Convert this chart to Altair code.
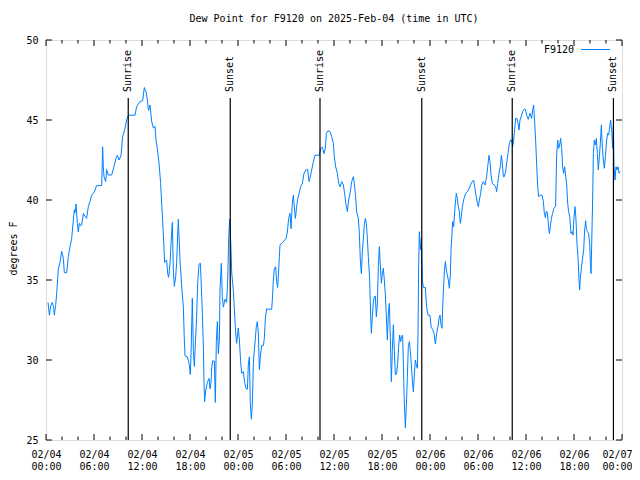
import json
import altair as alt
import pandas as pd

# hours since 2025-02-04 00:00 UTC
hours = [
    0.25, 0.42, 0.6, 0.79, 0.95, 1.04, 1.2, 1.33, 1.46, 1.54,
    1.75, 1.96, 2.05, 2.17, 2.29, 2.58, 2.79, 3.0, 3.21, 3.42,
    3.54, 3.62, 3.75, 3.92, 4.04, 4.17, 4.3, 4.46, 4.67, 4.85,
    5.08, 5.29, 5.5, 5.71, 6.04, 6.33, 6.96, 7.08, 7.17, 7.25,
    7.46, 7.58, 7.79, 8.21, 8.5, 8.75, 8.92, 9.13, 9.38, 9.58,
    9.88, 10.08, 10.29, 11.13, 11.33, 11.75, 12.08, 12.29, 12.5, 12.67,
    12.75, 12.83, 13.0, 13.21, 13.42, 13.63, 13.75, 13.92, 14.13, 14.33,
    14.46, 14.58, 14.75, 14.83, 15.08, 15.21, 15.33, 15.5, 15.63, 15.79,
    15.92, 16.04, 16.21, 16.33, 16.54, 16.75, 16.96, 17.17, 17.29, 17.38,
    17.67, 17.88, 18.04, 18.13, 18.29, 18.42, 18.54, 18.63, 18.83, 18.96,
    19.13, 19.29, 19.38, 19.54, 19.67, 19.75, 19.83, 19.96, 20.17, 20.38,
    20.5, 20.63, 20.71, 20.83, 21.04, 21.17, 21.29, 21.42, 21.54, 21.67,
    21.75, 21.92, 22.04, 22.17, 22.38, 22.58, 22.71, 22.83, 22.96, 23.04,
    23.13, 23.21, 23.42, 23.54, 23.71, 23.83, 24.04, 24.17, 24.33, 24.46,
    24.67, 24.83, 25.0, 25.17, 25.29, 25.42, 25.54, 25.67, 25.79, 25.92,
    26.04, 26.17, 26.29, 26.42, 26.54, 26.67, 26.79, 26.96, 27.17, 27.29,
    27.42, 27.58, 27.79, 28.21, 28.29, 28.42, 28.54, 28.71, 28.83, 28.96,
    29.04, 29.17, 29.25, 29.67, 30.0, 30.17, 30.33, 30.5, 30.63, 30.79,
    30.92, 31.04, 31.17, 31.33, 31.46, 31.63, 31.83, 32.04, 32.25, 32.5,
    32.71, 32.88, 33.0, 33.21, 33.42, 33.63, 34.17, 34.33, 34.54, 34.75,
    34.92, 35.04, 35.25, 35.5, 35.71, 35.92, 36.04, 36.21, 36.42, 36.58,
    36.75, 36.96, 37.17, 37.33, 37.5, 37.67, 37.83, 38.0, 38.21, 38.42,
    38.54, 38.67, 38.83, 39.04, 39.17, 39.29, 39.42, 39.54, 39.67, 39.79,
    39.92, 40.04, 40.17, 40.29, 40.46, 40.58, 40.67, 40.79, 40.92, 41.04,
    41.17, 41.29, 41.42, 41.54, 41.67, 41.79, 41.92, 42.04, 42.17, 42.29,
    42.42, 42.54, 42.67, 42.79, 42.92, 43.04, 43.17, 43.29, 43.42, 43.54,
    43.67, 43.83, 43.96, 44.08, 44.21, 44.33, 44.46, 44.58, 44.67, 44.79,
    44.92, 45.04, 45.17, 45.29, 45.42, 45.54, 45.67, 45.79, 45.92, 46.04,
    46.17, 46.29, 46.42, 46.5, 46.58, 46.67, 46.79, 46.92, 47.04, 47.17,
    47.42, 47.58, 47.75, 48.0, 48.13, 48.33, 48.5, 48.67, 48.83, 49.0,
    49.13, 49.25, 49.38, 49.5, 49.58, 49.67, 49.79, 49.92, 50.04, 50.17,
    50.29, 50.42, 50.54, 50.63, 50.75, 50.83, 50.96, 51.13, 51.29, 51.42,
    51.54, 51.67, 51.79, 51.92, 52.04, 52.25, 52.46, 52.67, 52.88, 53.08,
    53.29, 53.46, 53.58, 53.75, 53.92, 54.04, 54.17, 54.33, 54.46, 54.67,
    54.88, 55.08, 55.21, 55.38, 55.5, 55.63, 55.79, 56.0, 56.21, 56.33,
    56.46, 56.63, 56.79, 56.92, 57.04, 57.17, 57.29, 57.46, 57.58, 57.75,
    57.92, 58.08, 58.21, 58.33, 58.46, 58.58, 58.71, 58.88, 59.0, 59.13,
    59.25, 59.42, 59.58, 59.75, 59.92, 60.08, 60.29, 60.5, 60.71, 60.83,
    60.96, 61.08, 61.21, 61.33, 61.46, 61.58, 61.75, 62.0, 62.17, 62.29,
    62.42, 62.54, 62.67, 62.79, 62.92, 63.04, 63.17, 63.33, 63.5, 63.7,
    63.83, 63.96, 64.08, 64.21, 64.33, 64.46, 64.58, 64.71, 64.83, 64.96,
    65.08, 65.21, 65.33, 65.46, 65.58, 65.63, 65.75, 65.88, 66.0, 66.13,
    66.25, 66.38, 66.5, 66.63, 66.71, 66.79, 66.92, 67.04, 67.21, 67.33,
    67.46, 67.54, 67.67, 67.83, 67.96, 68.04, 68.13, 68.21, 68.33, 68.42,
    68.54, 68.67, 68.79, 68.92, 69.04, 69.17, 69.29, 69.42, 69.54, 69.67,
    69.79, 69.92, 70.08, 70.21, 70.33, 70.46, 70.58, 70.71, 70.83, 70.92,
    71.0, 71.13, 71.25, 71.38, 71.5, 71.63, 71.75,
]

dewpoint = [
    33.6, 32.8, 33.4, 33.6, 33.3, 32.8, 33.4, 34.1, 35.1, 35.7,
    36.1, 36.8, 36.6, 36.35, 35.46, 35.46, 36.46, 37.08, 37.6, 38.75,
    39.4, 39.2, 39.75, 38.54, 38.0, 38.54, 38.4, 38.44, 39.17, 39.0,
    38.85, 39.58, 39.9, 40.3, 40.5, 40.9, 40.9, 43.33, 42.0, 41.46,
    41.15, 41.9, 41.56, 41.56, 42.1, 42.6, 42.8, 42.5, 42.8, 43.96,
    44.48, 45.0, 45.3, 45.3, 45.83, 46.15, 46.2, 47.03, 46.77, 46.25,
    45.8, 45.6, 45.94, 44.9, 44.5, 44.6, 43.75, 43.2, 42.3, 41.04,
    39.8, 38.75, 36.98, 36.1, 36.25, 35.4, 35.17, 36.0, 37.3, 38.6,
    35.6, 34.6, 35.2, 36.1, 38.8, 36.25, 34.6, 33.3, 31.25, 30.25,
    30.2, 29.8, 29.1, 30.4, 33.85, 30.6, 29.6, 30.6, 32.7, 34.8,
    35.98, 36.05, 35.1, 33.0, 30.8, 28.54, 27.4, 28.1, 28.6, 28.85,
    28.2, 28.6, 29.5, 29.94, 29.94, 27.35, 31.15, 32.4, 30.4, 31.25,
    34.4, 36.05, 33.96, 33.3, 33.8, 33.6, 34.9, 37.5, 38.8, 37.9,
    36.9, 35.5, 34.3, 33.2, 31.7, 31.04, 32.0, 31.25, 29.9, 29.17,
    29.27, 28.6, 28.23, 28.17, 29.7, 30.2, 27.3, 26.3, 27.2, 29.8,
    30.6, 31.35, 32.1, 32.4, 31.67, 29.4, 30.2, 30.9, 30.9, 31.35,
    32.6, 33.2, 33.17, 33.17, 33.75, 35.0, 35.7, 35.83, 34.9, 34.54,
    35.2, 36.46, 37.2, 37.4, 37.6, 38.0, 38.85, 39.17, 38.2, 39.8,
    40.3, 39.58, 38.85, 39.58, 40.04, 40.4, 40.83, 41.04, 41.67, 41.9,
    41.9, 41.15, 41.35, 41.88, 42.4, 42.8, 42.8, 43.23, 43.3, 42.9,
    43.23, 44.17, 44.33, 44.27, 43.96, 43.54, 42.7, 42.08, 41.67, 41.04,
    40.83, 41.15, 40.94, 40.4, 39.7, 39.27, 40.0, 40.4, 41.15, 41.46,
    41.04, 40.4, 39.27, 38.85, 37.9, 36.25, 35.4, 36.77, 37.6, 38.44,
    38.85, 38.54, 37.6, 36.46, 35.0, 32.8, 31.67, 32.7, 33.64, 33.96,
    34.0, 32.7, 33.54, 35.83, 37.08, 35.94, 34.8, 35.4, 35.73, 35.0,
    34.06, 32.8, 31.25, 32.9, 33.54, 31.46, 28.65, 30.6, 32.2, 30.6,
    29.06, 29.17, 29.8, 30.83, 31.56, 31.15, 31.46, 31.56, 29.8, 27.3,
    25.77, 27.08, 28.96, 30.83, 31.15, 30.6, 29.7, 28.75, 28.02, 29.06,
    30.0, 29.7, 29.48, 31.56, 35.83, 38.02, 36.9, 37.6, 35.0, 34.54,
    34.54, 33.3, 32.8, 32.8, 32.1, 31.9, 31.67, 31.0, 31.67, 32.1,
    32.6, 32.8, 32.2, 31.98, 33.23, 34.27, 35.52, 36.15, 35.63, 35.3,
    35.0, 34.48, 35.3, 36.9, 37.9, 38.65, 38.33, 39.58, 40.42, 40.1,
    39.58, 39.27, 38.54, 38.96, 39.58, 40.1, 40.42, 40.52, 40.73, 40.94,
    41.15, 41.25, 40.83, 40.3, 39.8, 39.58, 40.0, 40.42, 40.94, 41.15,
    40.94, 41.46, 42.08, 42.8, 42.4, 41.56, 41.04, 40.94, 40.83, 40.52,
    41.04, 41.67, 42.08, 42.8, 42.3, 41.46, 41.46, 41.77, 42.3, 42.9,
    43.54, 43.75, 43.75, 43.33, 43.75, 44.38, 45.1, 45.1, 44.8, 44.38,
    45.0, 45.25, 45.52, 45.67, 45.67, 45.3, 45.04, 45.42, 45.1, 45.63,
    45.94, 44.9, 43.65, 42.3, 40.83, 40.2, 40.3, 40.3, 39.9, 39.2,
    38.9, 39.3, 39.2, 38.5, 37.9, 38.33, 38.85, 39.17, 39.48, 39.6,
    42.8, 43.75, 43.23, 43.44, 43.85, 43.23, 42.08, 41.67, 42.08, 41.46,
    41.04, 39.8, 39.27, 38.96, 38.2, 37.9, 38.02, 37.8, 38.96, 39.58,
    38.75, 37.2, 36.46, 35.0, 34.38, 35.1, 35.73, 36.25, 36.88, 38.13,
    38.7, 38.23, 38.02, 37.9, 37.3, 36.15, 35.4, 37.2, 40.0, 42.9,
    43.75, 43.44, 43.85, 42.9, 41.88, 42.7, 43.54, 44.69, 43.33, 42.5,
    41.98, 42.7, 43.75, 44.17, 44.06, 44.58, 45.0, 44.38, 43.23, 44.58,
    42.08, 41.25, 42.08, 41.88, 42.08, 41.67, 41.77,
]

assert len(hours) == len(dewpoint), (len(hours), len(dewpoint))

sun_hours = [10.28, 23.03, 34.25, 46.97, 58.28, 70.93]
sun_events = ["Sunrise", "Sunset", "Sunrise", "Sunset", "Sunrise", "Sunset"]

tick_hours = [0, 6, 12, 18, 24, 30, 36, 42, 48, 54, 60, 66, 72]
tick_dates = ["02/04", "02/04", "02/04", "02/04", "02/05", "02/05", "02/05",
              "02/05", "02/06", "02/06", "02/06", "02/06", "02/07"]
tick_times = ["00:00", "06:00", "12:00", "18:00", "00:00", "06:00", "12:00",
              "18:00", "00:00", "06:00", "12:00", "18:00", "00:00"]
minor_hours = [2, 4, 8, 10, 14, 16, 20, 22, 26, 28, 32, 34, 38, 40, 44, 46,
               50, 52, 56, 58, 62, 64, 68, 70]
y_ticks = [25, 30, 35, 40, 45, 50]

series_name = "F9120"
title_text = "Dew Point for F9120 on 2025-Feb-04 (time in UTC)"

FONT = "DejaVu Sans Mono"
BLUE = "#0080ff"

df = pd.DataFrame({"hour": hours, "dewpoint": dewpoint})
sun = pd.DataFrame({"hour": sun_hours, "event": sun_events})
major = pd.DataFrame({"hour": tick_hours})
minor = pd.DataFrame({"hour": minor_hours})
yt = pd.DataFrame({"dewpoint": y_ticks})
leg = pd.DataFrame({"label": [series_name]})

xscale = alt.Scale(domain=[0, 72], nice=False, zero=False)
yscale = alt.Scale(domain=[25, 50], nice=False, zero=False)

label_pairs = [[d, t] for d, t in zip(tick_dates, tick_times)]
label_expr = json.dumps(label_pairs) + "[round(datum.value / 6)]"

x_axis = alt.Axis(
    values=tick_hours, labelExpr=label_expr, title=None, grid=False,
    ticks=False, tickSize=0, domain=False, labelFont=FONT, labelFontSize=10,
    labelPadding=9, labelLineHeight=12, labelFlush=False,
    labelOverlap=False, labelColor="black", labelBaseline="top",
    labelAlign={"condition": {"test": "datum.value >= 72", "value": "right"},
                "value": "center"},
    labelOffset={"condition": {"test": "datum.value >= 72", "value": 10},
                 "value": 0},
)
y_axis = alt.Axis(values=y_ticks, title="degrees F", grid=False, ticks=False, tickSize=0,
                  domain=False, labelFont=FONT, labelFontSize=10, labelPadding=8,
                  labelColor="black", labelFlush=False, labelOverlap=False,
                  titleFont=FONT, titleFontSize=10, titleFontWeight="normal",
                  titleColor="black", titleAngle=270, titleX=-33, titleY=208,
                  titleAlign="center", titleBaseline="middle")

line = alt.Chart(df).mark_line(color=BLUE, strokeWidth=1).encode(
    x=alt.X("hour:Q", scale=xscale, axis=x_axis),
    y=alt.Y("dewpoint:Q", scale=yscale, axis=y_axis),
)

sun_rules = alt.Chart(sun).mark_rule(color="black", strokeWidth=1.2).encode(
    x=alt.X("hour:Q", scale=xscale),
    y=alt.value(58),
    y2=alt.value(400),
)
sun_text = alt.Chart(sun).mark_text(angle=270, align="left", baseline="middle",
                                    font=FONT, fontSize=10, color="black").encode(
    x=alt.X("hour:Q", scale=xscale),
    y=alt.value(52),
    text="event:N",
)

major_top = alt.Chart(major).mark_rule(color="black").encode(
    x=alt.X("hour:Q", scale=xscale), y=alt.value(0), y2=alt.value(6))
major_bot = alt.Chart(major).mark_rule(color="black").encode(
    x=alt.X("hour:Q", scale=xscale), y=alt.value(394), y2=alt.value(400))
minor_top = alt.Chart(minor).mark_rule(color="black").encode(
    x=alt.X("hour:Q", scale=xscale), y=alt.value(0), y2=alt.value(3.5))
minor_bot = alt.Chart(minor).mark_rule(color="black").encode(
    x=alt.X("hour:Q", scale=xscale), y=alt.value(396.5), y2=alt.value(400))
y_left = alt.Chart(yt).mark_rule(color="black").encode(
    y=alt.Y("dewpoint:Q", scale=yscale), x=alt.value(0), x2=alt.value(6))
y_right = alt.Chart(yt).mark_rule(color="black").encode(
    y=alt.Y("dewpoint:Q", scale=yscale), x=alt.value(570), x2=alt.value(576))

leg_text = alt.Chart(leg).mark_text(align="right", baseline="middle", font=FONT,
                                    fontSize=10, color="black").encode(
    x=alt.value(528), y=alt.value(10), text="label:N")
leg_line = alt.Chart(leg).mark_rule(color=BLUE, strokeWidth=1).encode(
    x=alt.value(535), x2=alt.value(564), y=alt.value(9.5))

chart = alt.layer(
    line, sun_rules, sun_text, major_top, major_bot, minor_top, minor_bot,
    y_left, y_right, leg_text, leg_line,
).properties(
    width=576,
    height=400,
    title=alt.TitleParams(title_text, font=FONT, fontSize=10, fontWeight="normal",
                          anchor="middle", offset=11, color="black"),
    padding={"left": 38, "top": 32, "right": 10, "bottom": 32},
    autosize=alt.AutoSizeParams(type="none"),
).configure_view(
    stroke="black", strokeWidth=1
).configure(background="white")

chart.save("out.html", embed_options={"renderer": "svg", "actions": False})
